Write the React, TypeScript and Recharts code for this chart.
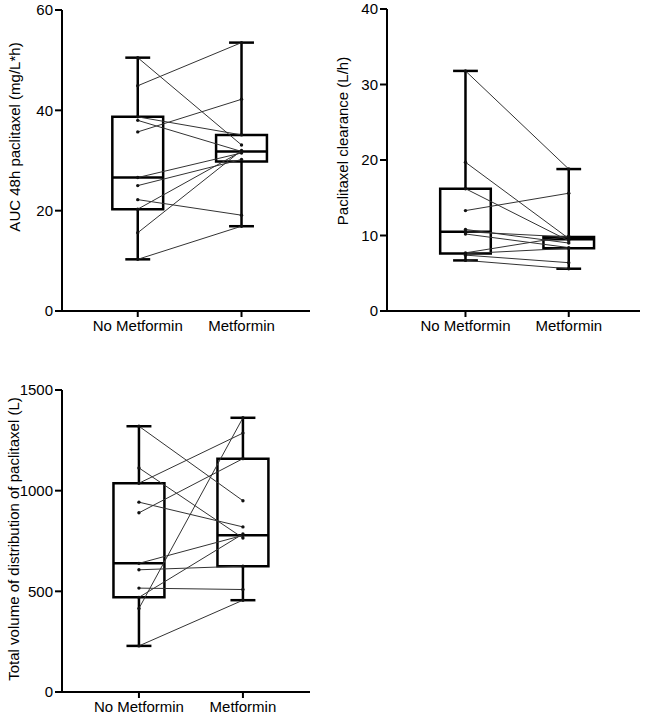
import React from "react";
import {
  ComposedChart,
  XAxis,
  YAxis,
  Scatter,
  ReferenceArea,
  ReferenceLine,
} from "recharts";

// groups on the x axis
const groups = ["No Metformin", "Metformin"];

// AUC 48h paclitaxel (mg/L*h), paired by patient
const aucNoMet = [50.5, 44.9, 38.7, 38.0, 35.7, 26.6, 25.0, 22.2, 20.3, 15.6, 10.3];
const aucMet = [33.1, 53.5, 35.1, 31.8, 42.2, 31.5, 30.2, 19.1, 31.8, 32.0, 16.9];
// box stats: min, q1, median, q3, max
const aucBoxNoMet = [10.3, 20.3, 26.6, 38.7, 50.5];
const aucBoxMet = [16.9, 29.8, 31.8, 35.1, 53.5];
const aucTicks = [0, 20, 40, 60];

// Paclitaxel clearance (L/h)
const clNoMet = [31.8, 19.7, 16.2, 13.3, 10.8, 10.5, 10.2, 7.7, 7.6, 7.4, 6.7];
const clMet = [18.8, 9.6, 9.3, 15.6, 9.0, 9.8, 8.4, 9.9, 8.3, 6.4, 5.6];
const clBoxNoMet = [6.7, 7.6, 10.5, 16.2, 31.8];
const clBoxMet = [5.6, 8.3, 9.5, 9.8, 18.8];
const clTicks = [0, 10, 20, 30, 40];

// Total volume of distribution (L)
const vdNoMet = [1320, 1113, 1037, 943, 890, 639, 607, 516, 470, 415, 229];
const vdMet = [950, 765, 1286, 820, 1159, 778, 625, 509, 785, 1362, 456];
const vdBoxNoMet = [229, 470, 639, 1037, 1320];
const vdBoxMet = [456, 625, 778, 1159, 1362];
const vdTicks = [0, 500, 1000, 1500];

const FONT = "'Liberation Sans', Arial, sans-serif";
const BOX_HALF = 0.245;
const CAP_HALF = 0.12;

const AxisTitle = ({ text, tx, ty }: any) => (
  <text
    x={tx}
    y={ty}
    transform={`rotate(-90 ${tx} ${ty})`}
    textAnchor="middle"
    dominantBaseline="central"
    fontSize={15}
    fontFamily={FONT}
    fill="#000"
  >
    {text}
  </text>
);

const Dot = (props: any) => {
  const { cx, cy } = props;
  if (cx == null || cy == null) return null;
  return <circle cx={cx} cy={cy} r={1.7} fill="#111" />;
};

function boxParts(pos: number, s: number[], key: string) {
  const [min, q1, med, q3, max] = s;
  const st = { stroke: "#000", strokeWidth: 2.5 };
  return [
    <ReferenceArea
      key={key + "box"}
      x1={pos - BOX_HALF}
      x2={pos + BOX_HALF}
      y1={q1}
      y2={q3}
      fill="none"
      fillOpacity={0}
      stroke="#000"
      strokeWidth={2.5}
      strokeOpacity={1}
    />,
    <ReferenceLine key={key + "med"} segment={[{ x: pos - BOX_HALF, y: med }, { x: pos + BOX_HALF, y: med }]} {...st} />,
    <ReferenceLine key={key + "wt"} segment={[{ x: pos, y: q3 }, { x: pos, y: max }]} {...st} />,
    <ReferenceLine key={key + "wb"} segment={[{ x: pos, y: min }, { x: pos, y: q1 }]} {...st} />,
    <ReferenceLine key={key + "ct"} segment={[{ x: pos - CAP_HALF, y: max }, { x: pos + CAP_HALF, y: max }]} {...st} />,
    <ReferenceLine key={key + "cb"} segment={[{ x: pos - CAP_HALF, y: min }, { x: pos + CAP_HALF, y: min }]} {...st} />,
  ];
}

function Panel({ noMet, met, box1, box2, ticks, title, tx, ty, xDomain, width, height, margin, style }: any) {
  const tickStyle = { fill: "#000", fontSize: 15, fontFamily: FONT };
  return (
    <div style={{ position: "absolute", ...style }}>
      <ComposedChart width={width} height={height} margin={margin}>
        <XAxis
          type="number"
          dataKey="x"
          domain={xDomain}
          ticks={[1, 2]}
          interval={0}
          allowDataOverflow
          tickFormatter={(v: number) => groups[v - 1]}
          axisLine={{ stroke: "#000", strokeWidth: 2 }}
          tickLine={{ stroke: "#000", strokeWidth: 2 }}
          tickSize={6}
          tickMargin={3}
          height={26}
          tick={tickStyle}
        />
        <YAxis
          type="number"
          dataKey="y"
          domain={[0, ticks[ticks.length - 1]]}
          ticks={ticks}
          interval={0}
          allowDataOverflow
          axisLine={{ stroke: "#000", strokeWidth: 2 }}
          tickLine={{ stroke: "#000", strokeWidth: 2 }}
          tickSize={7}
          tickMargin={2}
          width={62}
          tick={tickStyle}
          label={<AxisTitle text={title} tx={tx} ty={ty} />}
        />
        {boxParts(1, box1, "a")}
        {boxParts(2, box2, "b")}
        {noMet.map((v: number, i: number) => (
          <Scatter
            key={"p" + i}
            data={[
              { x: 1, y: v },
              { x: 2, y: met[i] },
            ]}
            dataKey="y"
            line={{ stroke: "#333", strokeWidth: 1 }}
            shape={<Dot />}
            isAnimationActive={false}
          />
        ))}
      </ComposedChart>
    </div>
  );
}

export default function App() {
  return (
    <div style={{ position: "absolute", left: 0, top: 0, width: 649, height: 718, background: "#fff", overflow: "hidden" }}>
      <Panel
        noMet={aucNoMet}
        met={aucMet}
        box1={aucBoxNoMet}
        box2={aucBoxMet}
        ticks={aucTicks}
        title="AUC 48h paclitaxel (mg/L*h)"
        tx={14}
        ty={137}
        xDomain={[0.27, 2.66]}
        width={320}
        height={337}
        margin={{ top: 10, right: 10, left: 0, bottom: 0 }}
        style={{ left: 0, top: 0 }}
      />
      <Panel
        noMet={clNoMet}
        met={clMet}
        box1={clBoxNoMet}
        box2={clBoxMet}
        ticks={clTicks}
        title="Paclitaxel clearance (L/h)"
        tx={17}
        ty={141}
        xDomain={[0.24, 2.69]}
        width={324}
        height={337}
        margin={{ top: 9, right: 9, left: 0, bottom: 0 }}
        style={{ left: 325, top: 0 }}
      />
      <Panel
        noMet={vdNoMet}
        met={vdMet}
        box1={vdBoxNoMet}
        box2={vdBoxMet}
        ticks={vdTicks}
        title="Total volume of distribution of paclitaxel (L)"
        tx={13}
        ty={159}
        xDomain={[0.26, 2.645]}
        width={320}
        height={338}
        margin={{ top: 10, right: 10, left: 0, bottom: 0 }}
        style={{ left: 0, top: 380 }}
      />
    </div>
  );
}
